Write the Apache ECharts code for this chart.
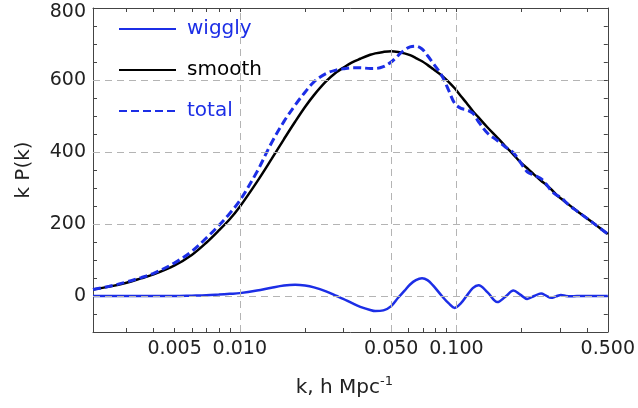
<!DOCTYPE html>
<html>
<head>
<meta charset="utf-8">
<script src="https://cdn.jsdelivr.net/npm/echarts@6/dist/echarts.min.js"></script>
<style>
html,body{margin:0;padding:0;background:#fff;}
#chart{width:638px;height:408px;}
</style>
</head>
<body>
<div id="chart"></div>
<script>
const kValues = [0.0021, 0.0025, 0.003, 0.0035, 0.004, 0.005, 0.006, 0.007, 0.008, 0.009,
  0.01, 0.012, 0.014, 0.016, 0.018, 0.02, 0.022, 0.025, 0.028, 0.03,
  0.033, 0.036, 0.04, 0.0422, 0.046, 0.05, 0.0538, 0.0575, 0.0611, 0.065,
  0.0694, 0.0735, 0.0778, 0.0857, 0.092, 0.0982, 0.105, 0.1114, 0.119, 0.1265,
  0.1393, 0.1545, 0.1683, 0.1833, 0.1972, 0.2123, 0.2285, 0.246, 0.2595, 0.2735,
  0.2884, 0.304, 0.3206, 0.338, 0.36, 0.4, 0.45, 0.5];
const smoothValues = [18, 26, 37, 49, 60, 85, 114, 148, 182, 214,
  248, 317, 380, 436, 484, 525, 558, 596, 622, 634,
  649, 659, 670, 674, 678, 680, 678, 674, 669, 661,
  652, 642, 631, 612, 595, 577, 555, 536, 514, 496,
  468, 440, 416, 393, 372, 355, 337, 320, 309, 297,
  282, 271, 260, 249, 236, 216, 193, 172];
const totalValues = [18, 27, 39, 51, 63, 92, 124, 161, 196, 230,
  265, 345, 425, 485, 530, 566, 595, 618, 628, 631,
  634, 634, 632, 632, 637, 650, 668, 683, 692, 694,
  686, 668, 648, 612, 572, 535, 521, 517, 508, 484,
  452, 432, 414, 398, 372, 345, 336, 326, 311, 293,
  281, 274, 260, 248, 236, 216, 193, 172];
const wigglyValues = [0, 0, 0, 0, 0, 0, 1, 2, 4, 6,
  8, 15, 23, 29, 31, 29, 24, 13, 0, -8,
  -20, -30, -39, -42, -40, -28, -5, 14, 32, 44,
  49, 44, 30, 0, -20, -33, -20, 0, 22, 30,
  10, -17, -2, 15, 4, -8, 0, 7, 1, -5,
  -1, 3, 0, -1, 0, 0, 0, 0];
const xLabelValues = [0.005, 0.01, 0.05, 0.1, 0.5];
const xTickValues = [0.003, 0.004, 0.005, 0.006, 0.007, 0.008, 0.009,
  0.01, 0.02, 0.03, 0.04, 0.05, 0.06, 0.07, 0.08, 0.09,
  0.1, 0.2, 0.3, 0.4, 0.5];
const xGridValues = [0.005, 0.01, 0.05, 0.1];
const yGridValues = [0, 200, 400, 600];
const yLabelStep = 200;
const yMax = 800;

const BLUE = '#1c2ee6';
const FONT = '"DejaVu Sans", "Liberation Sans", sans-serif';
const AXIS_COLOR = '#444';
const TEXT_COLOR = '#222';

const pairs = vals => kValues.map((k, i) => [k, vals[i]]);

const chart = echarts.init(document.getElementById('chart'), null, {renderer: 'canvas'});

const xBase = {
  type: 'log', logBase: 10, min: 0.0021, max: 0.5,
  axisLine: {show: true, onZero: false, lineStyle: {color: AXIS_COLOR, width: 1}},
  axisTick: {show: true, inside: true, length: 4, customValues: xTickValues, lineStyle: {color: AXIS_COLOR}},
  splitLine: {show: false},
  minorTick: {show: false},
  minorSplitLine: {show: false}
};
const yBase = {
  type: 'value', min: -100, max: yMax, interval: 50,
  axisLine: {show: true, onZero: false, lineStyle: {color: AXIS_COLOR, width: 1}},
  axisTick: {show: true, inside: true, length: 4, lineStyle: {color: AXIS_COLOR}},
  splitLine: {show: false}
};

chart.setOption({
  animation: false,
  backgroundColor: '#fff',
  grid: {left: 93, right: 27, top: 8, bottom: 76, containLabel: false},
  legend: {
    orient: 'vertical', left: 113, top: 14, padding: 5,
    itemWidth: 57, itemHeight: 20, itemGap: 21,
    itemStyle: {opacity: 0, borderWidth: 0},
    textStyle: {fontSize: 20, fontFamily: FONT, padding: [0, 0, 0, 6]},
    data: [
      {name: 'wiggly', textStyle: {color: BLUE}},
      {name: 'smooth', textStyle: {color: '#000'}},
      {name: 'total', textStyle: {color: BLUE}}
    ]
  },
  xAxis: [
    Object.assign({}, xBase, {
      position: 'bottom',
      axisLabel: {
        show: true, customValues: xLabelValues, margin: 8,
        fontSize: 19, fontFamily: FONT, color: TEXT_COLOR,
        formatter: v => Number(v).toFixed(3)
      },
      name: '{n|k, h Mpc}{s|-1}',
      nameLocation: 'middle', nameGap: 43,
      nameTextStyle: {
        padding: [0, 12, 0, 0],
        rich: {
          n: {fontSize: 20, fontFamily: FONT, color: TEXT_COLOR, lineHeight: 26},
          s: {fontSize: 13, fontFamily: FONT, color: TEXT_COLOR, verticalAlign: 'top', lineHeight: 26}
        }
      }
    }),
    Object.assign({}, xBase, {position: 'top', axisLabel: {show: false}})
  ],
  yAxis: [
    Object.assign({}, yBase, {
      position: 'left',
      axisLabel: {
        show: true, margin: 7, fontSize: 19, fontFamily: FONT, color: TEXT_COLOR,
        formatter: v => (v === yMax) ? '{t|' + v + '}' : ((v % yLabelStep === 0 && v >= 0) ? String(v) : ''),
        rich: {t: {fontSize: 19, fontFamily: FONT, color: TEXT_COLOR, padding: [8, 0, 0, 0]}}
      },
      name: 'k P(k)', nameLocation: 'middle', nameGap: 59,
      nameTextStyle: {fontSize: 20, fontFamily: FONT, color: TEXT_COLOR}
    }),
    Object.assign({}, yBase, {position: 'right', axisLabel: {show: false}})
  ],
  series: [
    {
      name: 'grid', type: 'line', data: [], z: 1, silent: true,
      markLine: {
        silent: true, symbol: ['none', 'none'], animation: false,
        label: {show: false},
        lineStyle: {type: [7, 5], color: '#b4b4b4', width: 1},
        data: xGridValues.map(v => ({xAxis: v})).concat(yGridValues.map(v => ({yAxis: v})))
      }
    },
    {
      name: 'smooth', type: 'line', data: pairs(smoothValues), z: 3,
      showSymbol: false, symbol: 'none', smooth: 0.35,
      lineStyle: {color: '#000', width: 2.5}, itemStyle: {color: '#000'}
    },
    {
      name: 'total', type: 'line', data: pairs(totalValues), z: 4,
      showSymbol: false, symbol: 'none', smooth: 0.35,
      lineStyle: {color: BLUE, width: 3, type: [8, 4]}, itemStyle: {color: BLUE}
    },
    {
      name: 'wiggly', type: 'line', data: pairs(wigglyValues), z: 3,
      showSymbol: false, symbol: 'none', smooth: 0.35,
      lineStyle: {color: BLUE, width: 2.5}, itemStyle: {color: BLUE}
    }
  ]
});
</script>
</body>
</html>
